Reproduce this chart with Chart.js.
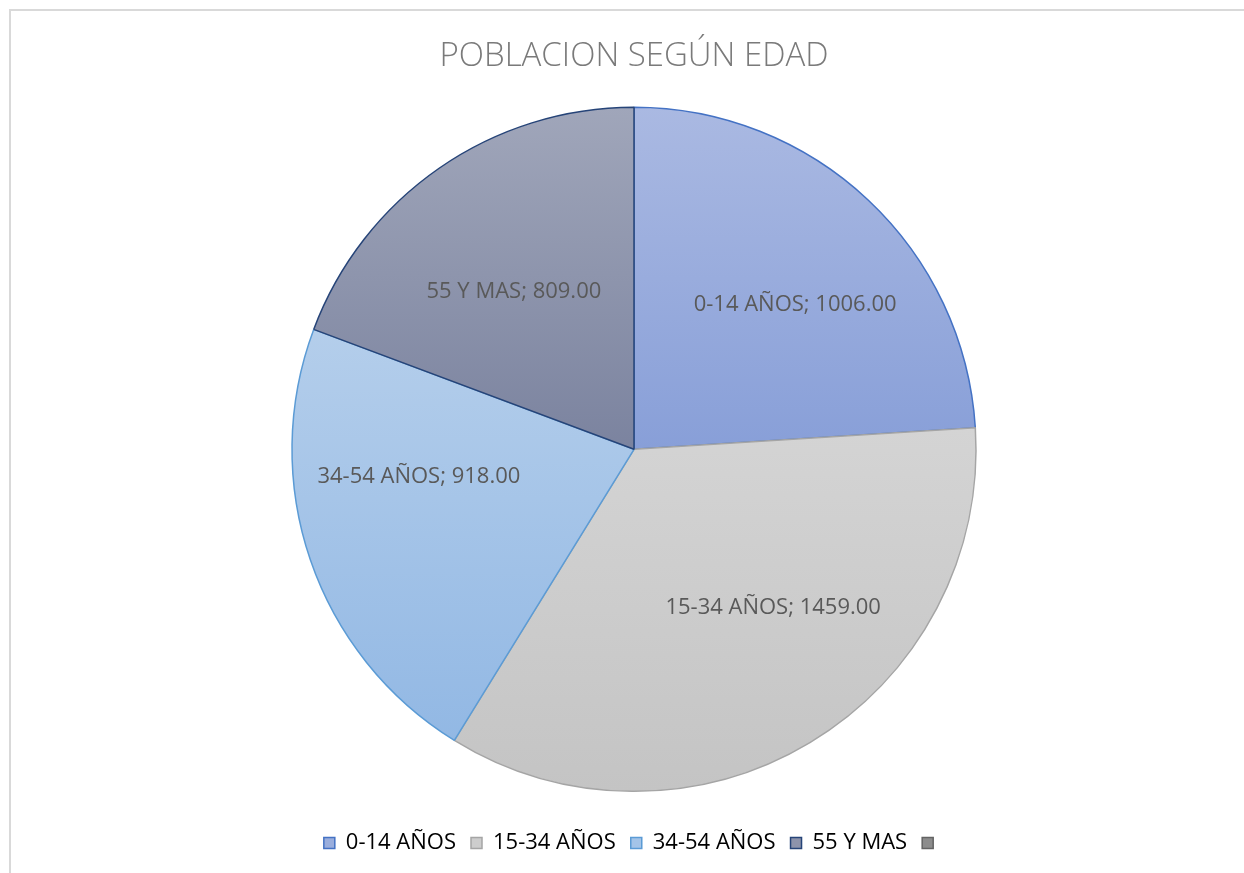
<!DOCTYPE html>
<html>
<head>
<meta charset="utf-8">
<script src="https://cdn.jsdelivr.net/npm/chart.js@4/dist/chart.umd.min.js"></script>
<style>
    html, body { margin: 0; padding: 0; background: #ffffff; }
    #wrap { position: relative; width: 1244px; height: 873px; overflow: hidden; }
    #frame { position: absolute; left: 9px; top: 9px; width: 1300px; height: 900px;
             border-left: 2px solid #d9d9d9; border-top: 2px solid #d9d9d9; }
    #ichart { position: absolute; left: 0; top: 0; }
</style>
</head>
<body>
<div id="wrap">
    <div id="frame"></div>
    <canvas id="ichart" width="1244" height="873"></canvas>
</div>
<script>
//Data
const categories = ["0-14 AÑOS", "15-34 AÑOS", "34-54 AÑOS", "55 Y MAS", ""];
const population = [1006, 1459, 918, 809, 0];

//Colours: gradient top / bottom, border, legend box
const gradTop = ["#aab9e2", "#d4d4d4", "#b4ceeb", "#a0a6ba"];
const gradBottom = ["#889fd8", "#c4c4c4", "#92b8e4", "#7b839f"];
const borderCol = ["#4472c4", "#a5a5a5", "#5b9bd5", "#264478", "#636363"];
const legendFill = ["#9aaedd", "#cdcdcd", "#a4c4e8", "#8d93ab", "#8c8c8c"];

const FONT = "'Open Sans', 'DejaVu Sans', sans-serif";

//Vertical gradient over the bounding box of each slice
function sliceGradient(context) {
    const i = context.dataIndex;
    const chart = context.chart;
    const area = chart.chartArea;
    if (!area || i >= gradTop.length) return legendFill[i];
    const meta = chart.getDatasetMeta(0);
    const r = meta.controller.outerRadius || 342;
    const cy = (area.top + area.bottom) / 2;
    const total = population.reduce((a, b) => a + b, 0);
    let start = -Math.PI / 2;
    for (let k = 0; k < i; k++) start += population[k] / total * 2 * Math.PI;
    const end = start + population[i] / total * 2 * Math.PI;
    let yMin = cy, yMax = cy;
    for (let s = 0; s <= 60; s++) {
        const y = cy + Math.sin(start + (end - start) * s / 60) * r;
        yMin = Math.min(yMin, y);
        yMax = Math.max(yMax, y);
    }
    const g = chart.ctx.createLinearGradient(0, yMin, 0, yMax);
    g.addColorStop(0, gradTop[i]);
    g.addColorStop(1, gradBottom[i]);
    return g;
}

//Labels "name; value" drawn inside the slices
const sliceLabels = {
    id: "sliceLabels",
    afterDatasetsDraw(chart, args, opts) {
        const ctx = chart.ctx;
        const meta = chart.getDatasetMeta(0);
        ctx.save();
        ctx.font = "22px " + FONT;
        ctx.fillStyle = "#595959";
        ctx.textAlign = "center";
        ctx.textBaseline = "middle";
        meta.data.forEach((arc, i) => {
            const v = population[i];
            if (!v) return;
            const n = opts.nudge[i] || {da: 0, rf: 0.62};
            const a = (arc.startAngle + arc.endAngle) / 2 + n.da * Math.PI / 180;
            const rr = arc.outerRadius * n.rf;
            ctx.fillText(`${categories[i]}; ${v.toFixed(2)}`, arc.x + Math.cos(a) * rr, arc.y + Math.sin(a) * rr);
        });
        ctx.restore();
    }
};

new Chart("ichart", {
    type: "pie",
    data: {
        labels: categories,
        datasets: [{
            data: population,
            backgroundColor: sliceGradient,
            borderColor: borderCol,
            borderWidth: 1.5,
            radius: 342
        }]
    },
    options: {
        responsive: false,
        animation: false,
        layout: { padding: { left: 24, bottom: 9 } },
        plugins: {
            title: {
                display: true,
                text: "POBLACION SEGÚN EDAD",
                color: "#7a7a7a",
                font: { family: FONT, size: 33, weight: "300" },
                padding: { top: 37, bottom: 5 }
            },
            legend: {
                position: "bottom",
                labels: {
                    boxWidth: 11,
                    boxHeight: 11,
                    padding: 15,
                    color: "#595959",
                    font: { family: FONT, size: 22 },
                    generateLabels: () => categories.map((t, i) => ({
                        text: t,
                        fillStyle: legendFill[i],
                        strokeStyle: borderCol[i],
                        lineWidth: 1.5,
                        hidden: false,
                        index: i
                    }))
                }
            },
            tooltip: { enabled: false },
            sliceLabels: {
                nudge: [
                    {da: 5, rf: 0.632},
                    {da: -10.3, rf: 0.617},
                    {da: 11.7, rf: 0.634},
                    {da: -2.6, rf: 0.579}
                ]
            }
        }
    },
    plugins: [sliceLabels]
});
</script>
</body>
</html>
